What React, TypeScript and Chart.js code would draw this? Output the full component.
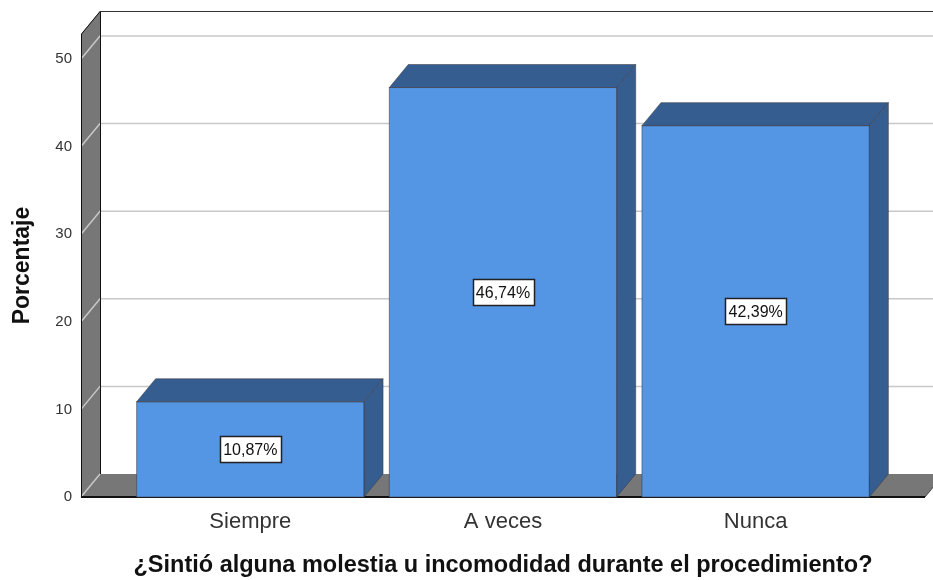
import React, { useEffect, useRef } from 'react';
import { Chart, registerables } from 'chart.js';

Chart.register(...registerables);

const categories = ['Siempre', 'A veces', 'Nunca'];
const percentages = [10.87, 46.74, 42.39];
const yTickValues = [0, 10, 20, 30, 40, 50];
const yMax = 52.85;
const xTitle = '¿Sintió alguna molestia u incomodidad durante el procedimiento?';
const yTitle = 'Porcentaje';

const DX = 19;
const DY = 23;
const EXT = 43;
const FRONT = '#5495e4';
const DARK = '#355d8f';
const WALL = '#777777';
const GRID = '#c8c8c8';
const FONT = "'Liberation Sans', Arial, sans-serif";

const fmt = (v: number) => v.toFixed(2).replace('.', ',') + '%';

const frame3d = {
  id: 'frame3d',
  beforeDatasetsDraw(chart: any) {
    const { ctx, chartArea: a, scales } = chart;
    const y = scales.y;
    const L = a.left - EXT;
    const R = a.right + EXT;
    const T = a.top;
    const B = a.bottom;
    const W = chart.width + DX + 10;
    ctx.save();
    // left wall
    ctx.fillStyle = WALL;
    ctx.beginPath();
    ctx.moveTo(L, B);
    ctx.lineTo(L, T);
    ctx.lineTo(L + DX, T - DY);
    ctx.lineTo(L + DX, B - DY);
    ctx.closePath();
    ctx.fill();
    // floor
    ctx.beginPath();
    ctx.moveTo(L, B);
    ctx.lineTo(R, B);
    ctx.lineTo(R + DX, B - DY);
    ctx.lineTo(L + DX, B - DY);
    ctx.closePath();
    ctx.fill();
    // gridlines
    ctx.strokeStyle = GRID;
    ctx.lineWidth = 1.5;
    yTickValues.forEach((v) => {
      const py = y.getPixelForValue(v);
      ctx.beginPath();
      ctx.moveTo(L, py);
      ctx.lineTo(L + DX, py - DY);
      if (v !== 0) ctx.lineTo(W, py - DY);
      ctx.stroke();
    });
    // outlines
    ctx.strokeStyle = '#111';
    ctx.lineWidth = 1;
    ctx.beginPath();
    ctx.moveTo(L + 0.5, B);
    ctx.lineTo(L + 0.5, T);
    ctx.lineTo(L + DX + 0.5, T - DY);
    ctx.lineTo(L + DX + 0.5, B - DY);
    ctx.stroke();
    ctx.strokeStyle = '#333';
    ctx.beginPath();
    ctx.moveTo(L + DX, T - DY + 0.5);
    ctx.lineTo(W, T - DY + 0.5);
    ctx.stroke();
    ctx.strokeStyle = '#111';
    ctx.lineWidth = 2;
    ctx.beginPath();
    ctx.moveTo(L, B);
    ctx.lineTo(R, B);
    ctx.stroke();
    ctx.lineWidth = 1;
    ctx.strokeStyle = '#444';
    ctx.beginPath();
    ctx.moveTo(R, B);
    ctx.lineTo(R + DX, B - DY);
    ctx.stroke();
    ctx.restore();
  },
  afterDatasetsDraw(chart: any) {
    const { ctx } = chart;
    const meta = chart.getDatasetMeta(0);
    ctx.save();
    meta.data.forEach((bar: any, i: number) => {
      const l = bar.x - bar.width / 2;
      const r = bar.x + bar.width / 2;
      const t = bar.y;
      const b = bar.base;
      ctx.fillStyle = DARK;
      ctx.strokeStyle = 'rgba(60,60,70,0.55)';
      ctx.lineWidth = 1;
      // top face
      ctx.beginPath();
      ctx.moveTo(l, t);
      ctx.lineTo(r, t);
      ctx.lineTo(r + DX, t - DY);
      ctx.lineTo(l + DX, t - DY);
      ctx.closePath();
      ctx.fill();
      ctx.stroke();
      // side face
      ctx.beginPath();
      ctx.moveTo(r, t);
      ctx.lineTo(r + DX, t - DY);
      ctx.lineTo(r + DX, b - DY);
      ctx.lineTo(r, b);
      ctx.closePath();
      ctx.fill();
      ctx.stroke();
      // front outline
      ctx.strokeRect(l, t, r - l, b - t);
      // label box
      const text = fmt(percentages[i]);
      ctx.font = `16px ${FONT}`;
      const tw = ctx.measureText(text).width;
      const bw = Math.round(tw + 7);
      const bh = 26;
      const cy = (t + b) / 2;
      const bx = Math.round(bar.x - bw / 2) + 0.5;
      const by = Math.round(cy - bh / 2) + 0.5;
      ctx.fillStyle = '#ffffff';
      ctx.fillRect(bx, by, bw, bh);
      ctx.strokeStyle = '#222';
      ctx.lineWidth = 1.5;
      ctx.strokeRect(bx, by, bw, bh);
      ctx.fillStyle = '#111';
      ctx.textAlign = 'center';
      ctx.textBaseline = 'middle';
      ctx.fillText(text, bar.x, cy + 1);
    });
    ctx.restore();
  },
};

export default function App() {
  const ref = useRef<HTMLCanvasElement>(null);
  useEffect(() => {
    document.body.style.margin = '0';
    document.body.style.overflow = 'hidden';
    const chart = new Chart(ref.current as HTMLCanvasElement, {
      type: 'bar',
      data: {
        labels: categories,
        datasets: [
          {
            data: percentages,
            backgroundColor: FRONT,
            borderWidth: 0,
            categoryPercentage: 1,
            barPercentage: 0.9,
          },
        ],
      },
      options: {
        animation: false,
        responsive: true,
        maintainAspectRatio: false,
        layout: { padding: { top: 34, right: 51, left: 0, bottom: 0 } },
        plugins: { legend: { display: false }, tooltip: { enabled: false } },
        scales: {
          x: {
            type: 'category',
            grid: { display: false, drawTicks: false },
            border: { display: false },
            ticks: { padding: 12, color: '#333', font: { family: FONT, size: 22 } },
            title: {
              display: true,
              text: xTitle,
              color: '#111',
              font: { family: FONT, size: 23.5, weight: 'bold' },
              padding: { top: 0, bottom: 0 },
            },
            afterFit: (s: any) => {
              s.height = 83;
              s.paddingLeft = 0;
              s.paddingRight = 0;
            },
          },
          y: {
            type: 'linear',
            min: 0,
            max: yMax,
            grid: { display: false, drawTicks: false },
            border: { display: false },
            ticks: { padding: 52, color: '#333', font: { family: FONT, size: 15 } },
            afterBuildTicks: (s: any) => {
              s.ticks = yTickValues.map((v) => ({ value: v }));
            },
            title: {
              display: true,
              text: yTitle,
              color: '#111',
              font: { family: FONT, size: 23, weight: 'bold' },
              padding: { top: 9, bottom: 0 },
            },
            afterFit: (s: any) => {
              s.width = 124;
              s.paddingTop = 0;
              s.paddingBottom = 0;
            },
          },
        },
      } as any,
      plugins: [frame3d],
    });
    return () => chart.destroy();
  }, []);
  return (
    <div style={{ width: 933, height: 580, position: 'relative' }}>
      <canvas ref={ref} />
    </div>
  );
}
